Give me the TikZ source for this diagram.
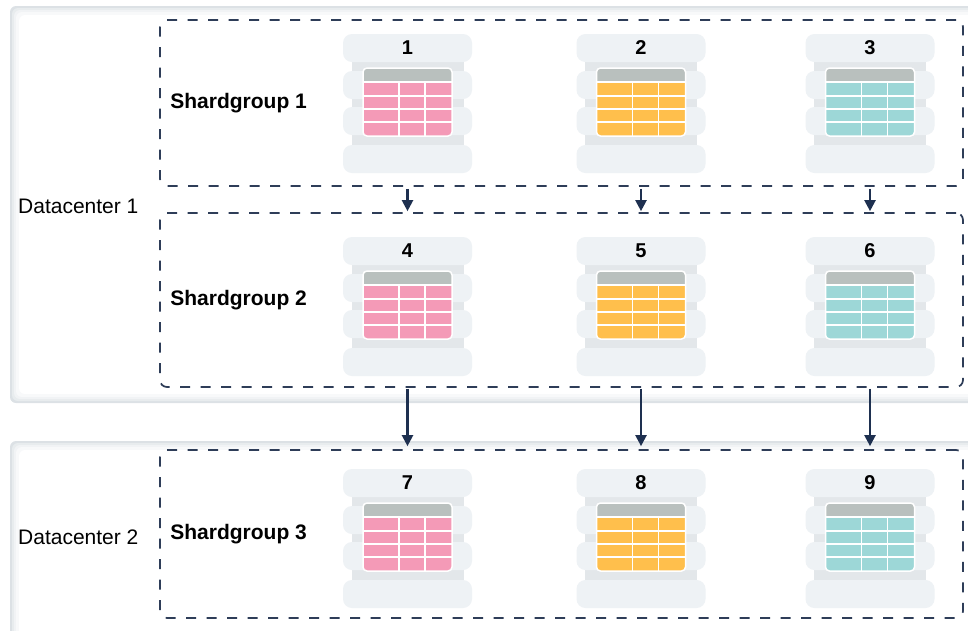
\documentclass[tikz,border=0pt]{standalone}
\usepackage{fontspec}
\setmainfont{Liberation Sans}
\usepackage{xcolor}
\usepackage{tikz}
\usetikzlibrary{arrows.meta,positioning}

\definecolor{dcedge}{HTML}{DCE1E5}
\definecolor{sgline}{HTML}{2E3D58}
\definecolor{flowline}{HTML}{1E3050}
\definecolor{srvslab}{HTML}{EEF2F5}
\definecolor{srvlink}{HTML}{E3E7EA}
\definecolor{tblhead}{HTML}{B9C0BE}
\definecolor{tblpink}{HTML}{F49AB7}
\definecolor{tblyellow}{HTML}{FFBF4C}
\definecolor{tblteal}{HTML}{9DD7D7}

\tikzset{
  sgbox/.style={draw=sgline, line width=1.7pt, dash pattern=on 10pt off 10.5pt,
    rounded corners=7pt, inner sep=0pt, minimum width=803pt},
  sglabel/.style={font=\fontsize{21}{25}\selectfont\bfseries, anchor=west, inner sep=0pt},
  dclabel/.style={font=\fontsize{21}{25}\selectfont, anchor=west, inner sep=0pt},
  srvnum/.style={font=\fontsize{20}{24}\selectfont\bfseries, inner sep=0pt},
  flow/.style={draw=flowline, line width=2.2pt, -{Triangle[width=11pt,length=11pt]}},
  pics/server/.style={code={
    \fill[srvlink] (-56,28) rectangle (56,111);
    \foreach \t in {0,37,73,111}
      \fill[srvslab, rounded corners=9pt] (-64.5,\t) rectangle (64.5,\t+28);
    \begin{scope}
      \clip[rounded corners=4pt] (-44.5,34) rectangle (44.5,102);
      \fill[tblhead] (-44.5,34) rectangle (44.5,48);
      \fill[#1] (-44.5,48) rectangle (44.5,102);
    \end{scope}
    \draw[white, line width=1.5pt] (-44.5,48) -- (44.5,48)
      \foreach \r in {62,75,88} { (-44.5,\r) -- (44.5,\r) }
      \foreach \v in {-8.5,17.5} { (\v,48) -- (\v,102) };
    \draw[white, line width=1.5pt, rounded corners=4pt] (-44.5,34) rectangle (44.5,102);
  }}
}

\begin{document}
\begin{tikzpicture}[x=1pt, y=-1pt]
  \useasboundingbox (0,0) rectangle (968,630);
  \clip (0,0) rectangle (968,630);
  % datacenter panels
  \foreach \d/\s in {0/100,2/65,4/40,6/20,9/0}
  {
    \fill[dcedge!\s!white, rounded corners=6pt] (10+\d,6+\d) rectangle (990,403-\d);
    \fill[dcedge!\s!white, rounded corners=6pt] (10+\d,441+\d) rectangle (990,660);
  }
  \node[dclabel] (dc1lbl) at (18,206) {Datacenter 1};
  \node[dclabel] (dc2lbl) at (18,537) {Datacenter 2};
  % shardgroups
  \node[sgbox, minimum height=166pt] (sg1) at (561.5,103) {};
  \node[sgbox, minimum height=174pt] (sg2) at (561.5,300) {};
  \node[sgbox, minimum height=168pt] (sg3) at (561.5,534) {};
  \node[sglabel, right=11pt of sg1.west] (sg1lbl) {Shardgroup 1};
  \node[sglabel, right=11pt of sg2.west] (sg2lbl) {Shardgroup 2};
  \node[sglabel, right=11pt of sg3.west] (sg3lbl) {Shardgroup 3};
  % servers
  \foreach \y [count=\g from 0] in {34,237,469}
    \foreach \x/\col [count=\k] in {407.5/tblpink, 641/tblyellow, 870/tblteal}
    {
      \pgfmathtruncatemacro{\n}{3*\g+\k}
      \pic at (\x,\y) {server=\col};
      \node[srvnum] (n\n) at (\x,\y+14) {\n};
    }
  % replication arrows
  \foreach \k in {1,2,3}
    \draw[flow, shorten <=2pt, shorten >=1pt] (sg1.south -| n\k) -- (sg2.north -| n\k);
  \foreach \k in {4,5,6}
    \draw[flow, shorten <=1pt, shorten >=3pt] (sg2.south -| n\k) -- (sg3.north -| n\k);
\end{tikzpicture}
\end{document}
